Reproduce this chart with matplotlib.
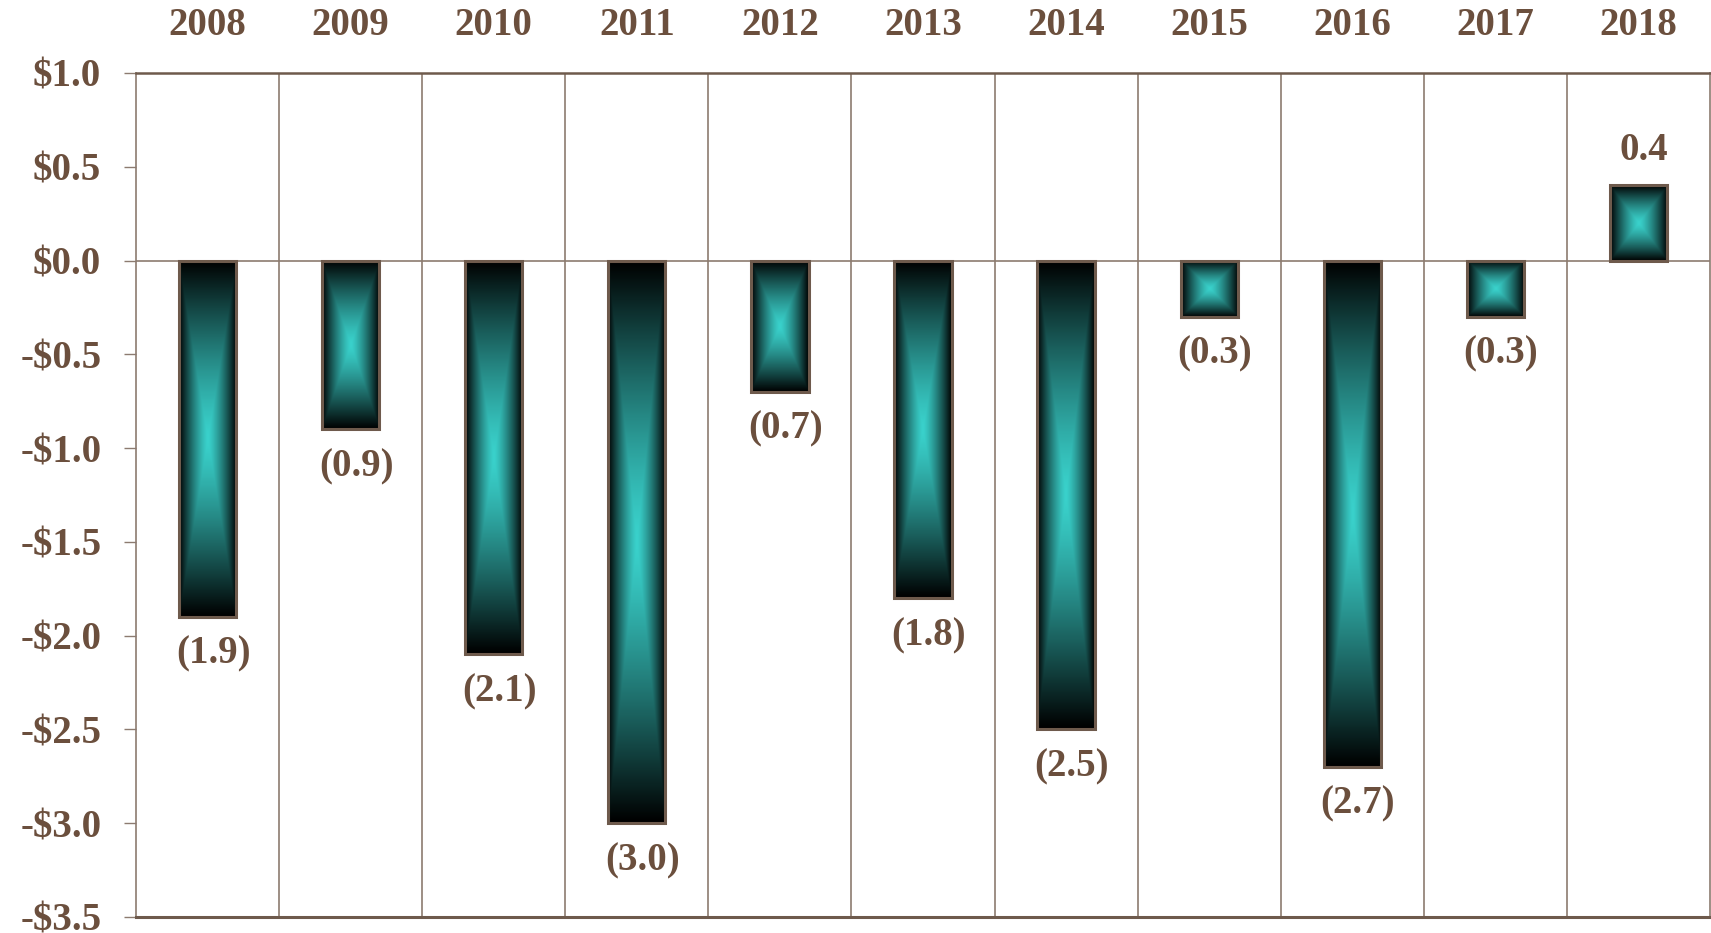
import numpy as np
import matplotlib
matplotlib.use("Agg")
import matplotlib.pyplot as plt
from matplotlib.colors import LinearSegmentedColormap

years = ["2008", "2009", "2010", "2011", "2012", "2013", "2014", "2015", "2016", "2017", "2018"]
values = [-1.9, -0.9, -2.1, -3.0, -0.7, -1.8, -2.5, -0.3, -2.7, -0.3, 0.4]
yticks = [1.0, 0.5, 0.0, -0.5, -1.0, -1.5, -2.0, -2.5, -3.0, -3.5]

text_color = "#6b4f3d"
grid_color = "#8c7b70"
edge_color = "#6e5a4c"
fsize = 28

plt.rcParams["font.family"] = ["Liberation Serif", "DejaVu Serif"]
plt.rcParams["font.weight"] = "bold"

fig = plt.figure(figsize=(17.11, 9.33), dpi=100)
ax = fig.add_axes([0.0795, 0.0172, 0.9199, 0.9046])

# pyramid gradient: teal in the middle fading to black at the edges
cmap = LinearSegmentedColormap.from_list("teal_glow", ["#3ad2cc", "#000000"])
n = 200
u = np.linspace(-1, 1, n)
U, V = np.meshgrid(u, u)
grad = np.maximum(np.abs(U), np.abs(V)) ** 1.3

x = np.arange(len(years))
width = 0.4
for xi, v in zip(x, values):
    y0, y1 = min(0, v), max(0, v)
    ax.imshow(grad, cmap=cmap, vmin=0, vmax=1, extent=(xi - width / 2, xi + width / 2, y0, y1),
              aspect="auto", interpolation="bilinear", zorder=3)
bars = ax.bar(x, values, width=width, facecolor="none", edgecolor=edge_color, linewidth=2.2, zorder=4)

# value labels, negatives shown in parentheses
for xi, v in zip(x, values):
    label = f"({abs(v):.1f})" if v < 0 else f"{v:.1f}"
    off = -27 if v < 0 else 25
    ax.annotate(label, (xi, v), xytext=(4, off), textcoords="offset points",
                ha="center", va="center", fontsize=fsize, color=text_color, fontweight="bold")

ax.set_xlim(-0.5, len(years) - 0.5)
ax.set_ylim(-3.5, 1.0)

# category separators and zero line
for b in np.arange(0.5, len(years) - 0.5, 1):
    ax.axvline(b, color=grid_color, linewidth=1.2, zorder=1)
ax.axhline(0, color=grid_color, linewidth=1.2, zorder=1)

ax.set_yticks(yticks)
ax.set_yticklabels([f"-${abs(t):.1f}" if t < 0 else f"${t:.1f}" for t in yticks])
ax.tick_params(axis="y", length=9, width=1.0, color=grid_color, pad=16,
               labelsize=fsize, labelcolor=text_color)

ax.xaxis.tick_top()
ax.set_xticks(x)
ax.set_xticklabels(years)
ax.tick_params(axis="x", length=0, pad=21, labelsize=fsize, labelcolor=text_color)

for side in ["left", "right"]:
    ax.spines[side].set_color(grid_color)
    ax.spines[side].set_linewidth(1.2)
ax.spines["top"].set_color(edge_color)
ax.spines["top"].set_linewidth(1.8)
ax.spines["bottom"].set_color(edge_color)
ax.spines["bottom"].set_linewidth(2.2)

fig.savefig("out.png", dpi=100)
